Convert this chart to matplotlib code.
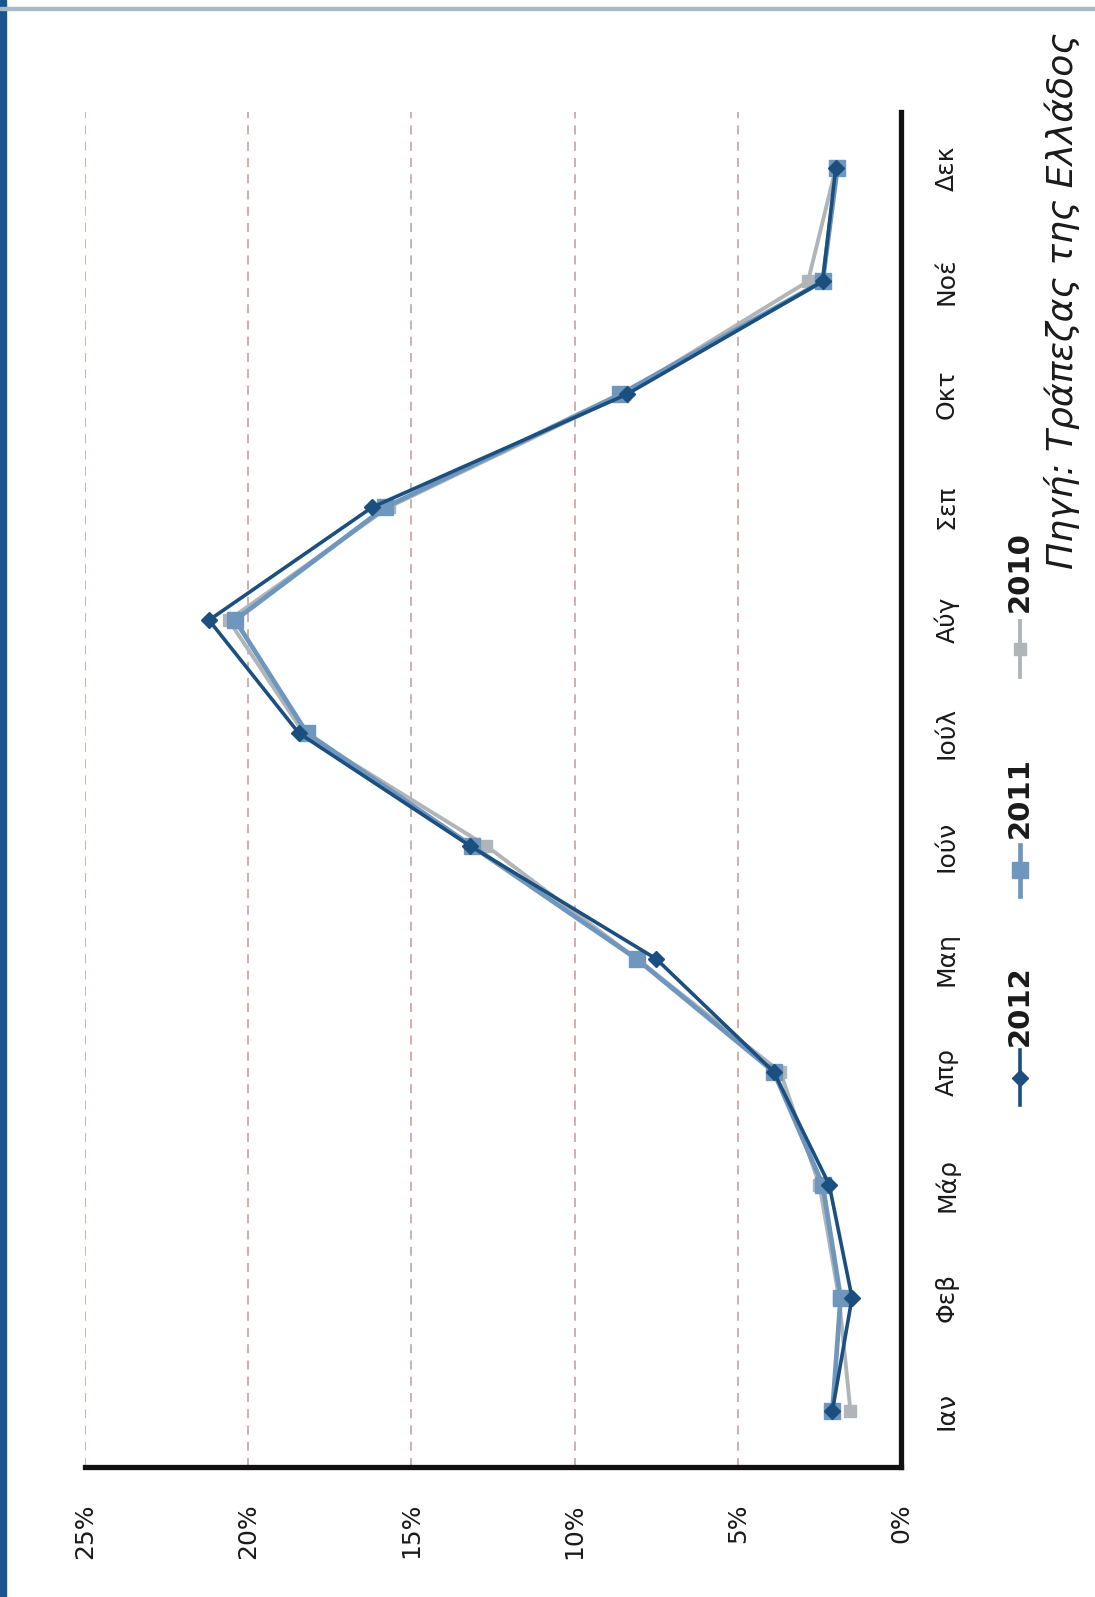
import matplotlib
matplotlib.use("Agg")
import matplotlib.pyplot as plt
from matplotlib.lines import Line2D
from matplotlib.patches import Rectangle

months = ["Ιαν", "Φεβ", "Μάρ", "Απρ", "Μαη", "Ιούν", "Ιούλ", "Αύγ", "Σεπ", "Οκτ", "Νοέ", "Δεκ"]
s2012 = [2.1, 1.5, 2.2, 3.9, 7.5, 13.2, 18.45, 21.2, 16.2, 8.4, 2.4, 2.0]
s2011 = [2.1, 1.85, 2.4, 3.9, 8.1, 13.15, 18.2, 20.4, 15.8, 8.6, 2.4, 1.95]
s2010 = [1.55, 1.9, 2.5, 3.7, 8.1, 12.7, 18.3, 20.6, 15.7, 8.5, 2.85, 2.0]
pct_ticks = [0, 5, 10, 15, 20, 25]
pct_labels = ["0%", "5%", "10%", "15%", "20%", "25%"]
source = "Πηγή: Τράπεζας της Ελλάδος"

W, H = 1095, 1597
fig = plt.figure(figsize=(W / 100, H / 100), dpi=100)
fig.patch.set_facecolor("white")

def fx(px):
    return px / W

def fy(py):
    return 1 - py / H

ax_l, ax_r, ax_t, ax_b = 85, 901, 112, 1467
ax = fig.add_axes([fx(ax_l), fy(ax_b), fx(ax_r - ax_l), (ax_b - ax_t) / H])

ypos = list(range(len(months)))
c2012, c2011, c2010 = "#1b4f80", "#6f97bd", "#b0b5ba"
ax.plot(s2010, ypos, color=c2010, lw=2.8, marker="s", ms=9, zorder=3)
ax.plot(s2011, ypos, color=c2011, lw=3.4, marker="s", ms=11, zorder=4)
ax.plot(s2012, ypos, color=c2012, lw=2.6, marker="D", ms=8, zorder=5)

ax.set_xlim(25, 0)
ax.set_ylim(-0.5, len(months) - 0.5)
ax.set_xticks(pct_ticks)
ax.set_xticklabels(pct_labels, rotation=90, family=["DejaVu Sans"], fontsize=18)
ax.set_yticks(ypos)
ax.set_yticklabels(months, rotation=90, family=["DejaVu Sans"], fontsize=18, va="center")
ax.yaxis.tick_right()
ax.tick_params(axis="x", length=0, pad=26, colors="#1a1a1a")
ax.tick_params(axis="y", length=0, pad=24, colors="#1a1a1a")
for lab in ax.get_xticklabels():
    lab.set_va("top")
    lab.set_ha("center")

for v in pct_ticks[1:]:
    ax.axvline(v, color="#c9aaa6", lw=1.3, ls=(0, (5, 4)), zorder=1)

for side in ["top", "left"]:
    ax.spines[side].set_visible(False)
for side in ["bottom", "right"]:
    ax.spines[side].set_linewidth(3.8)
    ax.spines[side].set_color("#111111")
ax.set_facecolor("none")

# legend (rotated, drawn manually)
leg = [("2012", c2012, "D", 8, 2.6, 1105, 1050, 1046),
       ("2011", c2011, "s", 11, 3.4, 896, 845, 838),
       ("2010", c2010, "s", 9, 2.8, 677, 621, 612)]
lx = 1020
for name, col, mk, ms, lw, yb, yt, ytext in leg:
    fig.add_artist(Line2D([fx(lx), fx(lx)], [fy(yb), fy(yt)], color=col, lw=lw,
                          transform=fig.transFigure))
    fig.add_artist(Line2D([fx(lx)], [fy((yb + yt) / 2)], color=col, marker=mk, ms=ms,
                          transform=fig.transFigure))
    fig.text(fx(lx), fy(ytext), name, rotation=90, ha="center", va="bottom",
             fontsize=21, fontweight="bold", color="#1a1a1a", family=["DejaVu Sans"])

fig.text(fx(1062), fy(32), source, rotation=90, ha="center", va="top",
         fontsize=26, style="italic", color="#1a1a1a", family=["DejaVu Sans"])

# frame decorations
fig.add_artist(Rectangle((0, 0), fx(6), 1, color="#1a5590", transform=fig.transFigure))
fig.add_artist(Rectangle((0, fy(10)), 1, 3 / H, color="#a7b8c7", transform=fig.transFigure))

fig.savefig("out.png", dpi=100, facecolor="white")
